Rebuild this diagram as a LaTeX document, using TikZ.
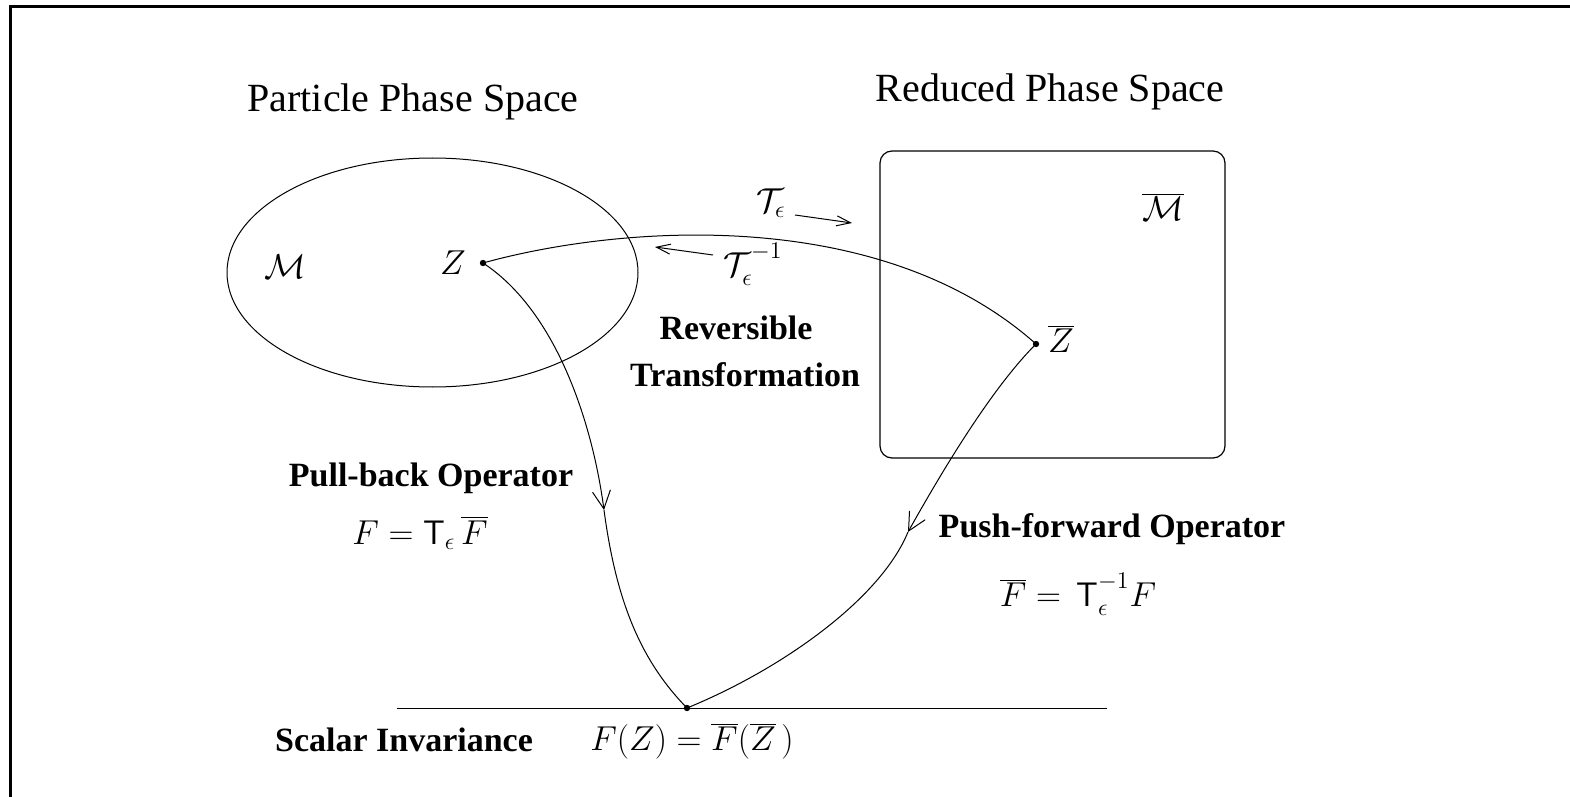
\documentclass[tikz,border=0pt]{standalone}
\usepackage{fontspec}
\setmainfont{Liberation Serif}
\usetikzlibrary{shapes.geometric,arrows.meta}
\begin{document}
\begin{tikzpicture}[x=0.5pt,y=-0.5pt,
  title/.style={font=\fontsize{20}{24}\selectfont, inner sep=0},
  boldlab/.style={font=\fontsize{17}{20}\selectfont\bfseries, inner sep=0},
  mathlab/.style={font=\fontsize{17}{20}\selectfont, inner sep=0},
  dot/.style={circle, fill, inner sep=0, minimum size=3.2pt},
  thin curve/.style={line width=0.5pt},
  bigbarb/.style={-{Straight Barb[length=9pt,width=9pt,line width=0.5pt]}},
  smallbarb/.style={-{Straight Barb[length=7pt,width=5pt,line width=0.5pt]}}]
\useasboundingbox (0,0) rectangle (1570,797);
\fill[white] (0,0) rectangle (1570,797);
% frame
\draw[line width=1.5pt] (10.5,797) -- (10.5,6.5) -- (1570,6.5);
% titles
\node[title] (t1) at (413,102) {Particle Phase Space};
\node[title] (t2) at (1050,92) {Reduced Phase Space};
% regions
\node[draw, ellipse, line width=0.5pt, minimum width=205.5pt, minimum height=114.5pt, inner sep=0] (ell) at (432.5,272.5) {};
\node[draw, rounded corners=6pt, line width=0.6pt, minimum width=172.5pt, minimum height=153.5pt, inner sep=0] (rps) at (1052.5,304.5) {};
\node[mathlab] (M) at (285,267) {$\mathcal{M}$};
\node[mathlab] (Mb) at (1163,207) {$\overline{\mathcal{M}}$};
% points
\node[dot] (Z) at (483,263) {};
\node[dot] (Zb) at (1036,344) {};
\node[dot] (O) at (687,708) {};
\node[mathlab] (Zl) at (453,263) {$Z$};
\node[mathlab] (Zbl) at (1061,339) {$\overline{Z}$};
% transformation curve
\draw[thin curve] (Z.center) .. controls (620,225) and (880,205) .. (Zb.center);
% small arrows
\coordinate (a1s) at (795,215);
\coordinate (a1e) at (852,223);
\coordinate (a2s) at (713,255);
\coordinate (a2e) at (655,247);
\draw[thin curve, smallbarb] (a1s) -- (a1e);
\draw[thin curve, smallbarb] (a2s) -- (a2e);
\node[mathlab] (Te) at (771,203) {$\mathcal{T}_{\epsilon}$};
\node[mathlab] (Tei) at (753,264) {$\mathcal{T}_{\epsilon}^{\raisebox{3pt}{$\scriptstyle -1$}}$};
\node[boldlab] (rev) at (736,328) {Reversible};
\node[boldlab] (tra) at (745,375) {Transformation};
% pull-back
\coordinate (pb) at (604,510);
\draw[thin curve, bigbarb] (Z.center) .. controls (555,310) and (592,420) .. (pb);
\draw[thin curve] (pb) .. controls (616,600) and (640,660) .. (O.center);
\node[boldlab] (pbl) at (431,478) {Pull-back Operator};
\node[mathlab] (pbe) at (420,533) {$F=\mathsf{T}_{\epsilon}\,\overline{F}$};
% push-forward
\coordinate (pf) at (908,532);
\draw[thin curve, bigbarb] (Zb.center) .. controls (990,390) and (940,475) .. (pf);
\draw[thin curve] (pf) .. controls (880,600) and (780,670) .. (O.center);
\node[boldlab] (pfl) at (1112,529) {Push-forward Operator};
\node[mathlab] (pfe) at (1078,594) {$\overline{F}=\,\mathsf{T}_{\epsilon}^{\raisebox{3pt}{$\scriptstyle -1$}}F$};
% scalar invariance
\coordinate (hl) at (397,708);
\coordinate (hr) at (1107,708);
\draw[line width=0.5pt] (hl) -- (hr);
\node[boldlab] (si) at (404,740) {Scalar Invariance};
\node[mathlab] (sie) at (692,741) {$F(Z)=\overline{F}(\overline{Z}\,)$};
\end{tikzpicture}
\end{document}
